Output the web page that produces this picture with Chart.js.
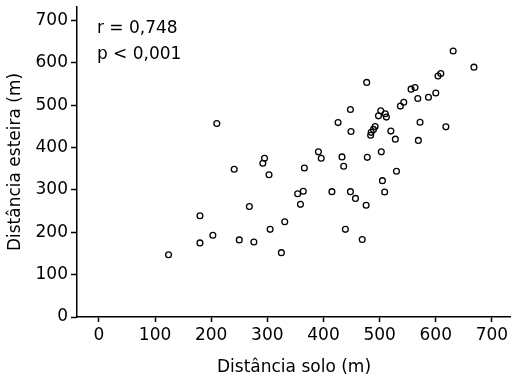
<!DOCTYPE html>
<html>
<head>
<meta charset="utf-8">
<script src="https://cdn.jsdelivr.net/npm/chart.js@4/dist/chart.umd.min.js"></script>
<style>
html,body{margin:0;padding:0;background:#fff;}
#wrap{width:511px;height:378px;}
</style>
</head>
<body>
<div id="wrap"><canvas id="c" width="511" height="378"></canvas></div>
<script>
// Distância solo (m)
const soloValues = [124, 180, 180, 203, 210, 241, 250, 268, 276, 292, 295, 303, 305, 325, 331, 354, 359, 364, 366, 391, 396, 415, 426, 433, 436, 439, 448, 448, 449, 457, 469, 476, 477, 478, 484, 485, 489, 492, 498, 502, 503, 505, 509, 510, 512, 520, 528, 530, 537, 543, 556, 563, 568, 569, 572, 587, 600, 604, 609, 618, 631, 668];
// Distância esteira (m)
const esteiraValues = [147, 239, 175, 193, 457, 349, 182, 261, 177, 363, 375, 336, 207, 152, 225, 291, 266, 297, 352, 390, 375, 296, 459, 378, 356, 207, 490, 296, 438, 280, 183, 264, 554, 377, 429, 436, 443, 450, 475, 487, 390, 322, 295, 480, 472, 439, 420, 344, 498, 507, 538, 542, 516, 417, 460, 519, 529, 569, 575, 449, 628, 590];
const xTickValues = [0, 100, 200, 300, 400, 500, 600, 700];
const yTickValues = [0, 100, 200, 300, 400, 500, 600, 700];
const statLines = ["r = 0,748", "p < 0,001"];
const xTitle = "Distância solo (m)";
const yTitle = "Distância esteira (m)";

const points = soloValues.map((x, i) => ({x: x, y: esteiraValues[i]}));
const FONT = "DejaVu Sans";
const FS = 17;

const statsPlugin = {
  id: 'stats',
  afterDraw(chart) {
    const ctx = chart.ctx;
    ctx.save();
    ctx.fillStyle = '#000';
    ctx.font = FS + 'px "' + FONT + '"';
    ctx.textAlign = 'left';
    ctx.textBaseline = 'middle';
    const x0 = chart.scales.x.getPixelForValue(0) - 2;
    ctx.fillText(statLines[0], x0, 29);
    ctx.fillText(statLines[1], x0, 55);
    ctx.restore();
  }
};

new Chart(document.getElementById('c'), {
  type: 'scatter',
  data: {
    datasets: [{
      data: points,
      backgroundColor: 'rgba(0,0,0,0)',
      borderColor: '#000',
      borderWidth: 1.3,
      pointRadius: 2.9,
      pointHoverRadius: 2.9
    }]
  },
  options: {
    responsive: false,
    animation: false,
    events: [],
    layout: {autoPadding: false, padding: {top: 7, right: 0, left: 0, bottom: 0}},
    plugins: {legend: {display: false}, tooltip: {enabled: false}},
    scales: {
      x: {
        type: 'linear',
        min: -39,
        max: 734,
        afterBuildTicks(s) { s.ticks = xTickValues.map(v => ({value: v})); },
        afterFit(s) { s.height = 61; s.paddingLeft = 0; s.paddingRight = 0; },
        border: {display: true, color: '#000', width: 1.5},
        grid: {display: true, drawOnChartArea: false, drawTicks: true, tickLength: 5, tickColor: '#000', tickWidth: 1.5},
        ticks: {color: '#000', font: {family: FONT, size: FS}, padding: 3, maxRotation: 0},
        title: {display: true, text: xTitle, color: '#000', font: {family: FONT, size: FS}, padding: {top: 2, bottom: 0}}
      },
      y: {
        type: 'linear',
        min: 0,
        max: 732,
        afterBuildTicks(s) { s.ticks = yTickValues.map(v => ({value: v})); },
        afterFit(s) { s.width = 77; s.paddingTop = 0; s.paddingBottom = 0; },
        border: {display: true, color: '#000', width: 1.5},
        grid: {display: true, drawOnChartArea: false, drawTicks: true, tickLength: 6, tickColor: '#000', tickWidth: 1.5},
        ticks: {color: '#000', font: {family: FONT, size: FS}, padding: 3},
        title: {display: true, text: yTitle, color: '#000', font: {family: FONT, size: FS}, padding: {top: 5, bottom: 2}}
      }
    }
  },
  plugins: [statsPlugin]
});
</script>
</body>
</html>
